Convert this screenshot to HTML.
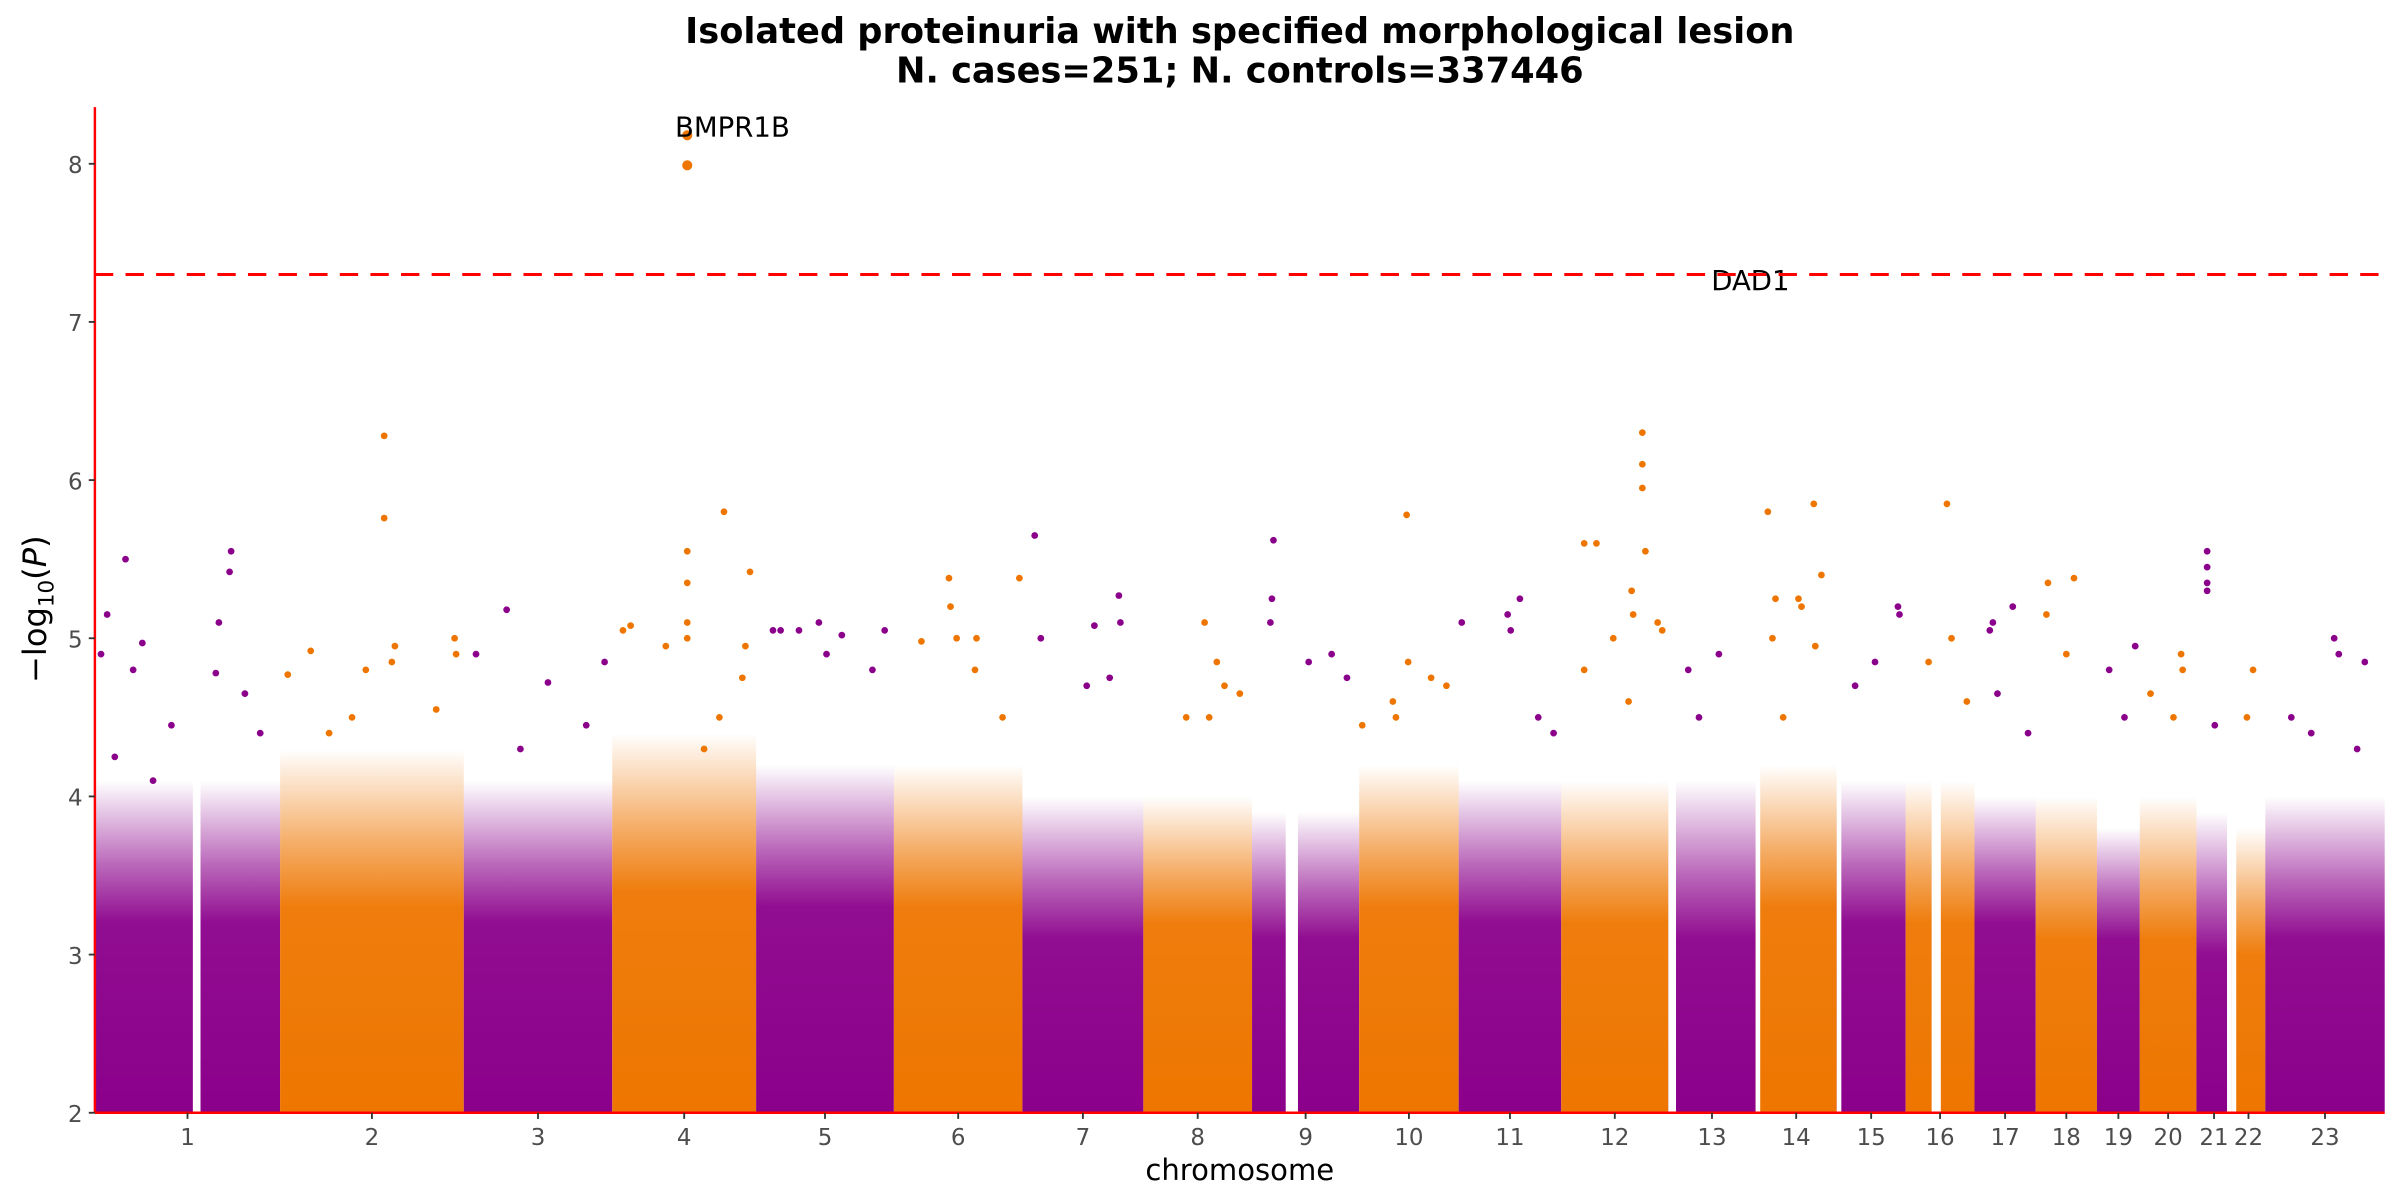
<!DOCTYPE html>
<html><head><meta charset="utf-8"><style>
html,body{margin:0;padding:0;background:#fff;}
svg{display:block;font-family:"DejaVu Sans","Liberation Sans",sans-serif;}
</style></head><body>
<svg id="chart" width="2400" height="1200" viewBox="0 0 1568 784" xmlns="http://www.w3.org/2000/svg">
<text x="810" y="28" text-anchor="middle" font-size="23" font-weight="bold">Isolated proteinuria with specified morphological lesion</text>
<text x="810" y="54" text-anchor="middle" font-size="23" font-weight="bold">N. cases=251; N. controls=337446</text>
<g id="marks"></g>
<g id="axes"></g>
<text x="810" y="771" text-anchor="middle" font-size="19">chromosome</text>
<text transform="translate(30,398) rotate(-90)" text-anchor="middle" font-size="21">−log<tspan font-size="14" dy="5">10</tspan><tspan dy="-5">(</tspan><tspan font-style="italic">P</tspan>)</text>
</svg>
<script>
const chromosomes = ["1","2","3","4","5","6","7","8","9","10","11","12","13","14","15","16","17","18","19","20","21","22","23"];
const chromLengths = [121,120,97,94,90,84,79,71,70,65,67,70,57,53,45,45,40,40,28,37,23,22,78];
const solidTops = [3.2,3.3,3.2,3.4,3.3,3.3,3.1,3.2,3.1,3.3,3.2,3.2,3.1,3.3,3.2,3.2,3.2,3.1,3.1,3.1,3.0,3.0,3.1];
const fadeTops = [4.1,4.3,4.1,4.4,4.2,4.2,4.0,4.0,3.9,4.2,4.1,4.1,4.1,4.2,4.1,4.1,4.0,4.0,3.8,4.0,3.9,3.8,4.0];
const gaps = [[1,64,69],[9,22,30],[13,0,5],[14,0,3],[15,0,3],[16,17,23],[21,20,23],[22,0,3]];
const peakPoints = [
[1,4,4.9],[1,8,5.15],[1,20,5.5],[1,25,4.8],[1,31,4.97],[1,50,4.45],[1,79,4.78],[1,81,5.1],[1,89,5.55],[1,88,5.42],[1,98,4.65],[1,108,4.4],[1,38,4.1],[1,13,4.25],
[2,5,4.77],[2,20,4.92],[2,56,4.8],[2,68,6.28],[2,68,5.76],[2,75,4.95],[2,73,4.85],[2,102,4.55],[2,114,5.0],[2,115,4.9],[2,47,4.5],[2,32,4.4],
[3,8,4.9],[3,28,5.18],[3,55,4.72],[3,80,4.45],[3,92,4.85],[3,37,4.3],
[4,7,5.05],[4,12,5.08],[4,35,4.95],[4,49,5.55],[4,49,5.35],[4,49,5.1],[4,49,5.0],[4,73,5.8],[4,70,4.5],[4,90,5.42],[4,87,4.95],[4,85,4.75],[4,60,4.3],
[5,11,5.05],[5,16,5.05],[5,28,5.05],[5,41,5.1],[5,56,5.02],[5,46,4.9],[5,76,4.8],[5,84,5.05],
[6,18,4.98],[6,36,5.38],[6,37,5.2],[6,41,5.0],[6,54,5.0],[6,53,4.8],[6,82,5.38],[6,71,4.5],
[7,8,5.65],[7,12,5.0],[7,42,4.7],[7,47,5.08],[7,63,5.27],[7,64,5.1],[7,57,4.75],
[8,40,5.1],[8,48,4.85],[8,53,4.7],[8,43,4.5],[8,63,4.65],[8,28,4.5],
[9,14,5.62],[9,13,5.25],[9,12,5.1],[9,37,4.85],[9,52,4.9],[9,62,4.75],
[10,2,4.45],[10,22,4.6],[10,24,4.5],[10,31,5.78],[10,32,4.85],[10,47,4.75],[10,57,4.7],
[11,2,5.1],[11,32,5.15],[11,34,5.05],[11,40,5.25],[11,52,4.5],[11,62,4.4],
[12,15,5.6],[12,23,5.6],[12,15,4.8],[12,34,5.0],[12,46,5.3],[12,47,5.15],[12,53,6.3],[12,53,6.1],[12,53,5.95],[12,55,5.55],[12,63,5.1],[12,66,5.05],[12,44,4.6],
[13,13,4.8],[13,33,4.9],[13,20,4.5],
[14,8,5.8],[14,11,5.0],[14,13,5.25],[14,28,5.25],[14,30,5.2],[14,38,5.85],[14,39,4.95],[14,43,5.4],[14,18,4.5],
[15,25,4.85],[15,40,5.2],[15,41,5.15],[15,12,4.7],
[16,27,5.85],[16,15,4.85],[16,30,5.0],[16,40,4.6],
[17,10,5.05],[17,12,5.1],[17,25,5.2],[17,15,4.65],[17,35,4.4],
[18,8,5.35],[18,7,5.15],[18,25,5.38],[18,20,4.9],
[19,8,4.8],[19,18,4.5],[19,25,4.95],
[20,7,4.65],[20,27,4.9],[20,28,4.8],[20,22,4.5],
[21,7,5.55],[21,7,5.45],[21,7,5.35],[21,7,5.3],[21,12,4.45],
[22,14,4.8],[22,10,4.5],
[23,17,4.5],[23,45,5.0],[23,48,4.9],[23,65,4.85],[23,30,4.4],[23,60,4.3]
];
const topHits = [[4,49,8.18],[4,49,7.99]];
const geneLabels = [["BMPR1B",4,41,8.23],["DAD1",13,28,7.26]];
const yTicks = [2,3,4,5,6,7,8];
const threshold = 7.3;

const NS="http://www.w3.org/2000/svg";
const X0=62,X1=1558,Y0=727,YTOP=70;
const total=chromLengths.reduce((a,b)=>a+b,0);
const starts=[];let acc=0;chromLengths.forEach(l=>{starts.push(acc);acc+=l;});
const xs=(c,p)=>X0+(starts[c-1]+p)/total*(X1-X0);
const ys=v=>Y0-(v-2)*(Y0-107)/6;
const colorOf=c=>c%2===1?"#8B008B":"#EE7600";
function mk(tag,attrs,parent){const e=document.createElementNS(NS,tag);for(const k in attrs)e.setAttribute(k,attrs[k]);parent.appendChild(e);return e;}
const svg=document.getElementById("chart"),marks=document.getElementById("marks"),axes=document.getElementById("axes");
const defs=mk("defs",{},svg);
chromosomes.forEach((name,i)=>{
  const c=i+1,col=colorOf(c);
  const g=mk("linearGradient",{id:"g"+c,x1:0,y1:1,x2:0,y2:0},defs);
  const off=(solidTops[i]-2)/(fadeTops[i]-2);
  mk("stop",{offset:0,"stop-color":col,"stop-opacity":1},g);
  mk("stop",{offset:off,"stop-color":col,"stop-opacity":0.95},g);
  mk("stop",{offset:off+(1-off)*0.4,"stop-color":col,"stop-opacity":0.6},g);
  mk("stop",{offset:off+(1-off)*0.75,"stop-color":col,"stop-opacity":0.25},g);
  mk("stop",{offset:1,"stop-color":col,"stop-opacity":0},g);
  const r=mk("rect",{x:xs(c,0),y:ys(fadeTops[i]),width:xs(c,chromLengths[i])-xs(c,0),height:Y0-ys(fadeTops[i]),fill:"url(#g"+c+")"},marks);
  
  
});
gaps.forEach(gp=>{
  const r=mk("rect",{x:xs(gp[0],gp[1]),y:YTOP,width:xs(gp[0],gp[2])-xs(gp[0],gp[1]),height:Y0-YTOP,fill:"#fff"},marks);
  
  
});
peakPoints.forEach(p=>{
  const e=mk("circle",{cx:xs(p[0],p[1]),cy:ys(p[2]),r:2.2,fill:colorOf(p[0])},marks);
  
  
});
topHits.forEach(p=>{
  const e=mk("circle",{cx:xs(p[0],p[1]),cy:ys(p[2]),r:3.3,fill:colorOf(p[0])},marks);
  
  
});
geneLabels.forEach(l=>{
  const t=mk("text",{x:xs(l[1],l[2]),y:ys(l[3])+6,"font-size":18},marks);
  t.textContent=l[0];
  
  
});
const th=mk("line",{x1:X0,x2:X1,y1:ys(threshold),y2:ys(threshold),stroke:"#ff0000","stroke-width":2,"stroke-dasharray":"12,8"},marks);


const ya=mk("line",{x1:X0,x2:X0,y1:YTOP,y2:Y0,stroke:"#ff0000","stroke-width":1.6},axes);


const xa=mk("line",{x1:X0,x2:X1,y1:Y0,y2:Y0,stroke:"#ff0000","stroke-width":1.6},axes);


yTicks.forEach(v=>{
  const tk=mk("line",{x1:X0-4,x2:X0,y1:ys(v),y2:ys(v),stroke:"#333","stroke-width":1.2},axes);
  
  
  const t=mk("text",{x:X0-8,y:ys(v)+6,"text-anchor":"end","font-size":15,fill:"#4d4d4d"},axes);
  t.textContent=v;
  
  
});
chromosomes.forEach((name,i)=>{
  const cx=xs(i+1,chromLengths[i]/2);
  const tk=mk("line",{x1:cx,x2:cx,y1:Y0,y2:Y0+4,stroke:"#333","stroke-width":1.2},axes);
  
  
  const t=mk("text",{x:cx,y:Y0+21,"text-anchor":"middle","font-size":15,fill:"#4d4d4d"},axes);
  t.textContent=name;
  
  
});
</script>
</body></html>
